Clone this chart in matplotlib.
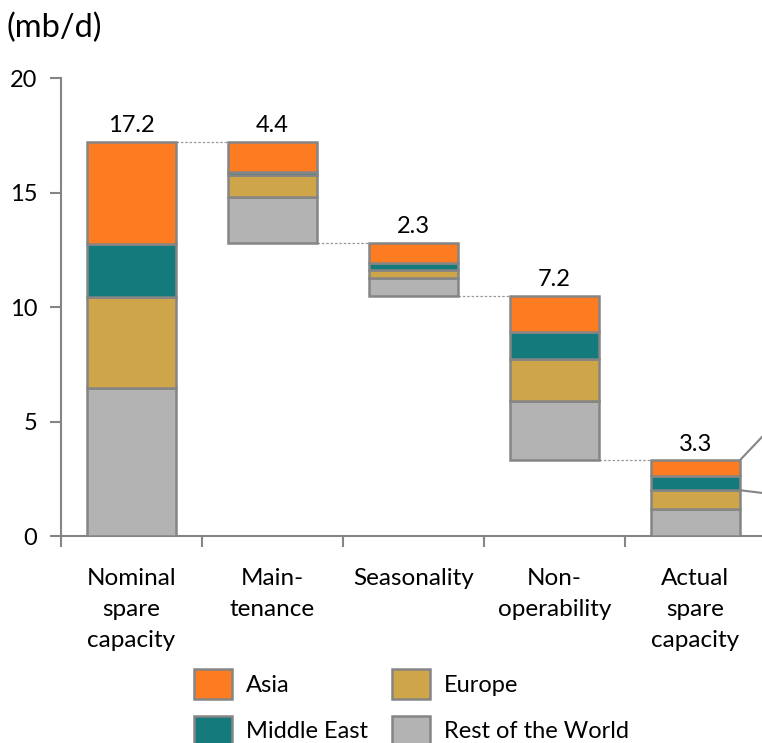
import numpy as np
import matplotlib.pyplot as plt
from matplotlib.patches import Patch

plt.rcParams["font.family"] = ["Lato", "DejaVu Sans"]

# waterfall steps (mb/d)
categories = ["Nominal\nspare\ncapacity", "Main-\ntenance", "Seasonality",
              "Non-\noperability", "Actual\nspare\ncapacity"]
totals = [17.2, 4.4, 2.3, 7.2, 3.3]
bases = [0.0, 12.8, 10.5, 3.3, 0.0]
total_labels = ["17.2", "4.4", "2.3", "7.2", "3.3"]

# regional parts, stacked from the bottom
rest_of_world = [6.45, 2.0, 0.75, 2.6, 1.2]
europe = [4.0, 0.96, 0.35, 1.85, 0.8]
middle_east = [2.3, 0.14, 0.3, 1.15, 0.6]
asia = [4.45, 1.3, 0.9, 1.6, 0.7]

series = [
    ("Rest of the World", rest_of_world, "#b3b3b3"),
    ("Europe", europe, "#cfa54a"),
    ("Middle East", middle_east, "#147a7c"),
    ("Asia", asia, "#fd7c22"),
]

edge = "#858585"
fig = plt.figure(figsize=(7.62, 7.43), dpi=100)
ax = fig.add_axes([0.080, 0.2786, 0.925, 0.6164])

x = np.arange(len(categories))
w = 0.63

bottom = np.array(bases, dtype=float)
for name, vals, col in series:
    vals = np.array(vals)
    ax.bar(x, vals, w, bottom=bottom, color=col, edgecolor=edge,
           linewidth=1.8, zorder=3)
    bottom = bottom + vals

tops = np.array(bases) + np.array(totals)
for i in range(len(x)):
    ax.text(x[i], tops[i] + 0.25, total_labels[i], ha="center", va="bottom",
            fontsize=17)

# connectors between steps
levels = [17.2, 12.8, 10.5, 3.3]
for i, lev in enumerate(levels):
    ax.plot([x[i] + w / 2, x[i + 1] - w / 2], [lev, lev], color="#999999",
            linewidth=0.9, linestyle=(0, (2, 1.5)), zorder=2)

# leader lines toward the right edge
ax.plot([x[4] + w / 2, x[4] + w / 2 + 0.2], [3.3, 4.6], color=edge,
        linewidth=1.5, clip_on=False, zorder=4)
ax.plot([x[4] + w / 2, x[4] + w / 2 + 0.2], [2.0, 1.85], color=edge,
        linewidth=1.5, clip_on=False, zorder=4)

ax.set_xlim(-0.5, 4.5)
ax.set_ylim(0, 20)
ax.set_yticks([0, 5, 10, 15, 20])
ax.set_xticks(x)
ax.set_xticklabels(categories, fontsize=17.5, linespacing=1.6)
ax.set_xticks(np.arange(-0.5, 4.6, 1.0), minor=True)
ax.tick_params(axis="x", which="major", length=0, pad=23)
ax.tick_params(axis="x", which="minor", length=8, width=1.5, color=edge)
ax.tick_params(axis="y", length=8, width=1.5, color=edge, labelsize=17,
               pad=9)

for s in ["top", "right"]:
    ax.spines[s].set_visible(False)
for s in ["left", "bottom"]:
    ax.spines[s].set_color(edge)
    ax.spines[s].set_linewidth(1.5)

fig.text(0.008, 0.962, "(mb/d)", fontsize=23.5, ha="left", va="center")

handles = [Patch(facecolor="#fd7c22", edgecolor=edge, linewidth=1.8, label="Asia"),
           Patch(facecolor="#147a7c", edgecolor=edge, linewidth=1.8, label="Middle East"),
           Patch(facecolor="#cfa54a", edgecolor=edge, linewidth=1.8, label="Europe"),
           Patch(facecolor="#b3b3b3", edgecolor=edge, linewidth=1.8, label="Rest of the World")]
fig.legend(handles=handles, ncol=2, loc="center", bbox_to_anchor=(0.54, 0.048),
           frameon=False, fontsize=17, handlelength=1.6, handleheight=1.55,
           columnspacing=1.0, labelspacing=0.7, handletextpad=0.6)

plt.savefig("out.png", dpi=100)
plt.close()
